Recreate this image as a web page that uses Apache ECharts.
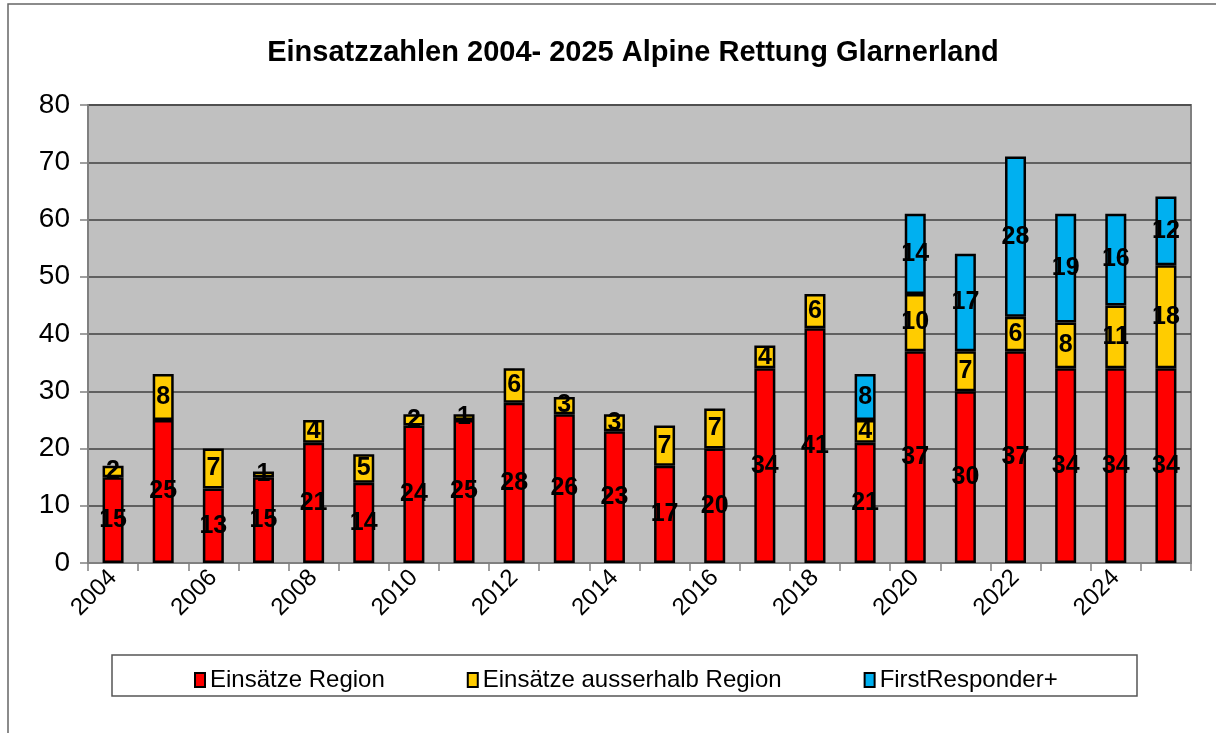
<!DOCTYPE html>
<html>
<head>
<meta charset="utf-8">
<script src="https://cdn.jsdelivr.net/npm/echarts@6/dist/echarts.min.js"></script>
<style>
  html, body { margin: 0; padding: 0; background: #fff; }
  #chart { width: 1216px; height: 733px; }
</style>
</head>
<body>
<div id="chart"></div>
<script>
// Einsatzzahlen Alpine Rettung Glarnerland
var years = ['2004', '2005', '2006', '2007', '2008', '2009', '2010', '2011', '2012', '2013', '2014',
             '2015', '2016', '2017', '2018', '2019', '2020', '2021', '2022', '2023', '2024', '2025'];
var region = [15, 25, 13, 15, 21, 14, 24, 25, 28, 26, 23, 17, 20, 34, 41, 21, 37, 30, 37, 34, 34, 34];
var ausserhalb = [2, 8, 7, 1, 4, 5, 2, 1, 6, 3, 3, 7, 7, 4, 6, 4, 10, 7, 6, 8, 11, 18];
var firstResponder = [null, null, null, null, null, null, null, null, null, null, null,
                      null, null, null, null, 8, 14, 17, 28, 19, 16, 12];
var yTicks = [0, 10, 20, 30, 40, 50, 60, 70, 80];

var FONT = '"Liberation Sans", Arial, sans-serif';

function makeSeries(name, data, color) {
    return {
        name: name,
        type: 'bar',
        stack: 'total',
        data: data,
        barWidth: 21,
        itemStyle: {
            color: color,
            borderColor: '#000',
            borderWidth: 2.5
        },
        label: {
            show: true,
            position: 'inside',
            color: '#000',
            fontFamily: FONT,
            fontWeight: 'bold',
            fontSize: 25,
            formatter: function (p) { return p.value ? p.value : ''; }
        },
        emphasis: { disabled: true }
    };
}

var chart = echarts.init(document.getElementById('chart'));
var option = {
    animation: false,
    backgroundColor: '#fff',
    title: {
        text: 'Einsatzzahlen 2004- 2025 Alpine Rettung Glarnerland',
        left: 628,
        textAlign: 'center',
        top: 33,
        textStyle: { fontFamily: FONT, fontWeight: 'bold', fontSize: 29, color: '#000' }
    },
    graphic: [
        {
            type: 'rect',
            shape: { x: 8, y: 4, width: 1230, height: 760 },
            style: { fill: 'none', stroke: '#666', lineWidth: 1.5 },
            z: -10
        },
        {
            type: 'rect',
            shape: { x: 112, y: 655, width: 1025, height: 41 },
            style: { fill: '#fff', stroke: '#555', lineWidth: 1.5 },
            z: -5
        }
    ],
    legend: {
        left: 189,
        top: 663,
        itemGap: 82,
        itemWidth: 10,
        itemHeight: 14,
        icon: 'rect',
        textStyle: { fontFamily: FONT, fontSize: 24, color: '#000' },
        data: ['Einsätze Region', 'Einsätze ausserhalb Region', 'FirstResponder+']
    },
    grid: {
        left: 88,
        right: 25,
        top: 105,
        bottom: 170,
        show: true,
        backgroundColor: '#C0C0C0',
        borderColor: '#808080',
        borderWidth: 2
    },
    xAxis: {
        type: 'category',
        data: years,
        axisLine: { show: true, lineStyle: { color: '#808080', width: 2 } },
        axisTick: { show: true, interval: 0, length: 8, lineStyle: { color: '#808080', width: 1.5 } },
        axisLabel: {
            interval: 1,
            rotate: 45,
            margin: 11,
            color: '#000',
            fontFamily: FONT,
            fontSize: 24
        }
    },
    yAxis: {
        type: 'value',
        min: yTicks[0],
        max: yTicks[yTicks.length - 1],
        interval: 10,
        axisLine: { show: true, lineStyle: { color: '#808080', width: 2 } },
        axisTick: { show: true, length: 8, lineStyle: { color: '#808080', width: 1.5 } },
        axisLabel: {
            margin: 18,
            color: '#000',
            fontFamily: FONT,
            fontSize: 28
        },
        splitLine: { show: true, lineStyle: { color: '#404040', width: 1.5 } }
    },
    series: [
        makeSeries('Einsätze Region', region, '#FF0000'),
        makeSeries('Einsätze ausserhalb Region', ausserhalb, '#FFCC00'),
        makeSeries('FirstResponder+', firstResponder, '#00B0F0')
    ]
};
chart.setOption(option);
</script>
</body>
</html>
